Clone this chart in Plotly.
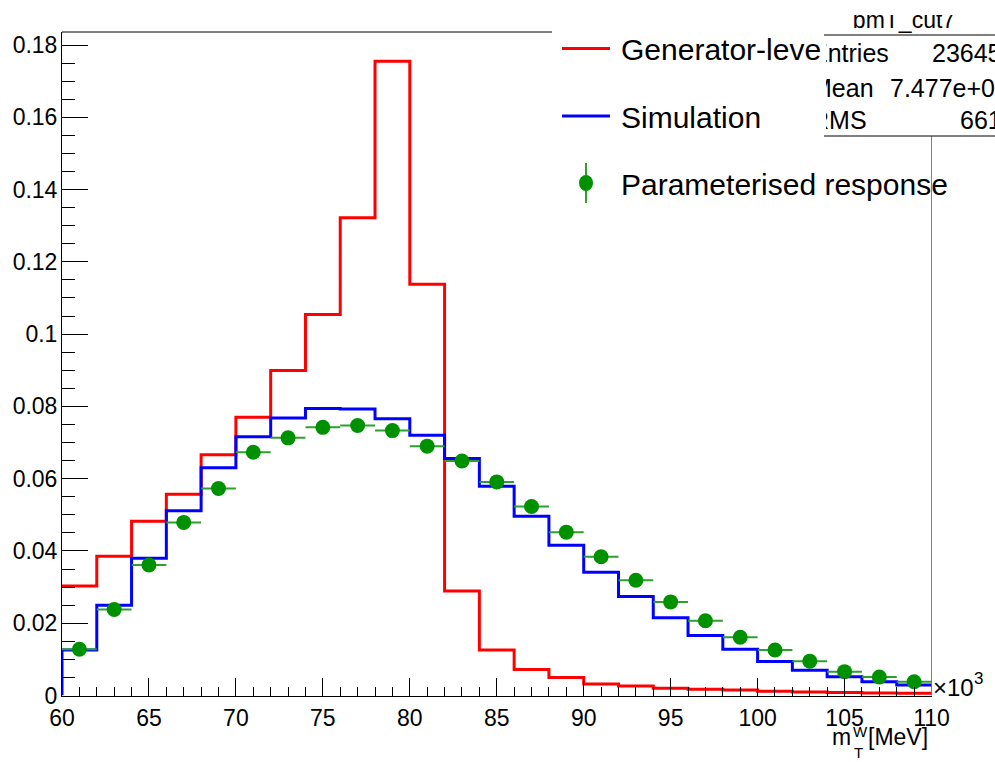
import plotly.graph_objects as go

# ---------------- data ----------------
bin_lo = [60, 62, 64, 66, 68, 70, 72, 74, 76, 78, 80, 82, 84, 86, 88, 90,
          92, 94, 96, 98, 100, 102, 104, 106, 108]
bin_width = 2

generator = [0.0303, 0.0385, 0.0482, 0.0557, 0.0666, 0.0770, 0.0899, 0.1054,
             0.1322, 0.1755, 0.1138, 0.0289, 0.0126, 0.0072, 0.0050, 0.0032,
             0.0026, 0.0020, 0.00175, 0.0015, 0.0012, 0.0010, 0.0008, 0.0007,
             0.0006]
simulation = [0.0126, 0.0250, 0.0380, 0.0511, 0.0630, 0.0716, 0.0768, 0.0794,
              0.0793, 0.0766, 0.0720, 0.0656, 0.0579, 0.0496, 0.0416, 0.0341,
              0.0274, 0.0215, 0.0166, 0.0128, 0.0094, 0.0070, 0.0052, 0.0038,
              0.0029]
parameterised = [0.0128, 0.0238, 0.0361, 0.0479, 0.0573, 0.0673, 0.0713,
                 0.0742, 0.0747, 0.0733, 0.0690, 0.0649, 0.0591, 0.0523,
                 0.0452, 0.0384, 0.0319, 0.0259, 0.0207, 0.0161, 0.0126,
                 0.0095, 0.0066, 0.0051, 0.0038]

legend_labels = ["Generator-leve", "Simulation", "Parameterised response"]
stat_title = "bmT_cut7"
stat_labels = ["Entries", "Mean", "RMS"]
stat_values = ["23645", "7.477e+04", "661"]

# ---------------- figure ----------------
W, H = 995, 762
FONT = "Liberation Sans, Arial, Helvetica, sans-serif"
RED, BLUE, GREEN, GREEN_BAR = "#ff0000", "#0000ff", "#009100", "#2f9f2f"


def px(xpix):
    return xpix / W


def py(ypix):
    return 1 - ypix / H


edges = bin_lo + [bin_lo[-1] + bin_width]
centers = [b + bin_width / 2 for b in bin_lo]
half = [bin_width / 2] * len(bin_lo)

fig = go.Figure()

fig.add_trace(go.Scatter(
    x=edges, y=generator + [generator[-1]], mode="lines",
    line=dict(color=RED, width=3, shape="hv"), showlegend=False,
    hoverinfo="skip"))
fig.add_trace(go.Scatter(
    x=[edges[0]] + edges, y=[0] + simulation + [simulation[-1]], mode="lines",
    line=dict(color=BLUE, width=3, shape="hv"), showlegend=False,
    hoverinfo="skip"))
fig.add_trace(go.Scatter(
    x=centers, y=parameterised, mode="markers",
    marker=dict(color=GREEN, size=15, line=dict(width=0)),
    error_x=dict(type="data", array=half, color=GREEN_BAR, thickness=2,
                 width=0),
    showlegend=False))

# stats-box text drawn as text traces on a full-figure pixel subplot
rows_y = [56, 91, 123]
label_x = [811, 811, 811]
value_x = [932, 890, 960]
fig.add_trace(go.Scatter(
    x=label_x + value_x, y=rows_y + rows_y, text=stat_labels + stat_values,
    mode="text", textposition="middle right",
    textfont=dict(family=FONT, size=25, color="black"),
    xaxis="x2", yaxis="y2", showlegend=False, cliponaxis=False,
    hoverinfo="skip"))
fig.add_trace(go.Scatter(
    x=[904], y=[22], text=[stat_title], mode="text",
    textposition="middle center",
    textfont=dict(family=FONT, size=23, color="black"),
    xaxis="x2", yaxis="y2", showlegend=False, cliponaxis=False,
    hoverinfo="skip"))

x0p, x1p = px(62), px(931.5)
y0p, y1p = py(695.5), py(32)

fig.update_layout(
    width=W, height=H,
    margin=dict(l=0, r=0, t=0, b=0, pad=0, autoexpand=False),
    paper_bgcolor="white", plot_bgcolor="rgba(0,0,0,0)",
    font=dict(family=FONT, size=23, color="black"),
    xaxis=dict(domain=[x0p, x1p], range=[60, 110], anchor="y",
               automargin=False,
               showgrid=False, zeroline=False, showline=True,
               linecolor="black", linewidth=1,
               ticks="inside", ticklen=18, tickwidth=1, tickcolor="black",
               tick0=60, dtick=5,
               minor=dict(ticks="inside", ticklen=9, dtick=1, tickwidth=1,
                          tickcolor="black", showgrid=False),
               tickfont=dict(family=FONT, size=23), ticklabelstandoff=2),
    yaxis=dict(domain=[y0p, y1p], range=[0, 0.1836], anchor="x",
               automargin=False,
               showgrid=False, zeroline=False, showline=True,
               linecolor="black", linewidth=1,
               ticks="inside", ticklen=26, tickwidth=1, tickcolor="black",
               tick0=0, dtick=0.02,
               minor=dict(ticks="inside", ticklen=13, dtick=0.005,
                          tickwidth=1, tickcolor="black", showgrid=False),
               tickfont=dict(family=FONT, size=23), ticklabelstandoff=-1),
    xaxis2=dict(domain=[0, 1], range=[0, W], anchor="y2", visible=False,
                automargin=False, fixedrange=True),
    yaxis2=dict(domain=[0, 1], range=[H, 0], anchor="x2", visible=False,
                automargin=False, fixedrange=True),
    showlegend=False,
)

shapes = [
    # legend pad (white) hides what lies under it
    dict(type="rect", xref="paper", yref="paper", x0=px(552), x1=px(826),
         y0=py(0), y1=py(215), fillcolor="white", line=dict(width=0),
         layer="above"),
    # clipping of the stats title top
    dict(type="rect", xref="paper", yref="paper", x0=px(780), x1=px(995),
         y0=py(0), y1=py(15), fillcolor="white", line=dict(width=0),
         layer="above"),
    # frame top (visible part)
    dict(type="line", xref="paper", yref="paper", x0=x0p, x1=px(552),
         y0=y1p, y1=y1p, line=dict(color="black", width=1), layer="above"),
    # frame right (below stats box)
    dict(type="line", xref="x", yref="paper", x0=110, x1=110,
         y0=y0p, y1=py(136), line=dict(color="black", width=1),
         layer="above"),
    # stats box lines
    dict(type="line", xref="paper", yref="paper", x0=px(824), x1=px(995),
         y0=py(35), y1=py(35), line=dict(color="black", width=1),
         layer="above"),
    dict(type="line", xref="paper", yref="paper", x0=px(824), x1=px(995),
         y0=py(136), y1=py(136), line=dict(color="black", width=1),
         layer="above"),
    # legend symbols
    dict(type="line", xref="paper", yref="paper", x0=px(562), x1=px(610),
         y0=py(48.5), y1=py(48.5), line=dict(color=RED, width=3),
         layer="above"),
    dict(type="line", xref="paper", yref="paper", x0=px(562), x1=px(610),
         y0=py(116), y1=py(116), line=dict(color=BLUE, width=3),
         layer="above"),
    dict(type="line", xref="paper", yref="paper", x0=px(586), x1=px(586),
         y0=py(163), y1=py(203), line=dict(color=GREEN_BAR, width=2),
         layer="above"),
    dict(type="circle", xref="paper", yref="paper", x0=px(579), x1=px(593),
         y0=py(175), y1=py(191), fillcolor=GREEN, line=dict(width=0),
         layer="above"),
]
fig.update_layout(shapes=shapes)

ann = []
for lab, yc in zip(legend_labels, [49, 118, 185]):
    ann.append(dict(text=lab, xref="paper", yref="paper", x=px(619), y=py(yc),
                    xanchor="left", yanchor="middle", showarrow=False,
                    font=dict(family=FONT, size=30, color="black")))
# x axis title  m_T^W [MeV]
ann.append(dict(text="m", xref="paper", yref="paper", x=px(830), y=py(737),
                xanchor="left", yanchor="middle", showarrow=False,
                font=dict(family=FONT, size=23)))
ann.append(dict(text="W", xref="paper", yref="paper", x=px(851), y=py(731),
                xanchor="left", yanchor="middle", showarrow=False,
                font=dict(family=FONT, size=15)))
ann.append(dict(text="T", xref="paper", yref="paper", x=px(852), y=py(752),
                xanchor="left", yanchor="middle", showarrow=False,
                font=dict(family=FONT, size=15)))
ann.append(dict(text="[MeV]", xref="paper", yref="paper", x=px(866),
                y=py(737), xanchor="left", yanchor="middle", showarrow=False,
                font=dict(family=FONT, size=23)))
ann.append(dict(text="×10", xref="paper", yref="paper", x=px(931),
                y=py(687), xanchor="left", yanchor="middle", showarrow=False,
                font=dict(family=FONT, size=24)))
ann.append(dict(text="3", xref="paper", yref="paper", x=px(972),
                y=py(678), xanchor="left", yanchor="middle", showarrow=False,
                font=dict(family=FONT, size=17)))
fig.update_layout(annotations=ann)

fig.write_html(
    "out.html",
    config={"displayModeBar": False},
    post_script="document.body.style.margin='0px';"
                "document.body.style.padding='0px';")
